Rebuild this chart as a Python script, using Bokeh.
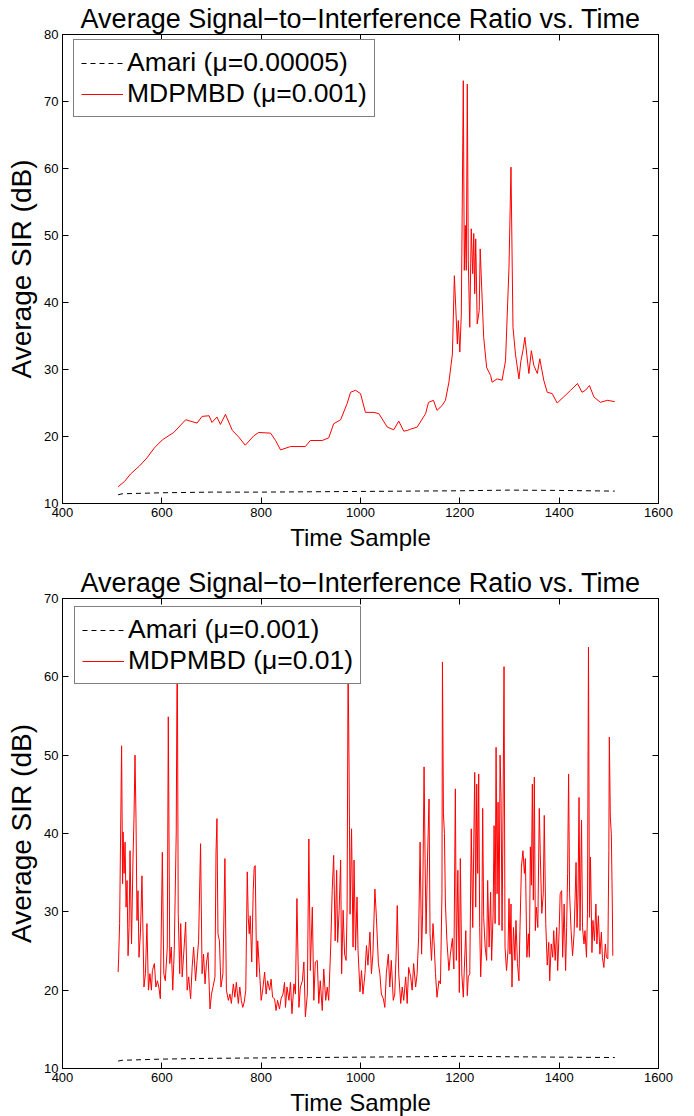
from bokeh.plotting import figure
from bokeh.layouts import column
from bokeh.models import Range1d, LinearAxis, FixedTicker, Legend, LegendItem
from bokeh.embed import file_html
from bokeh.resources import INLINE

FONT = "Liberation Sans"
TITLE = "Average Signal\u2212to\u2212Interference Ratio vs. Time"
X_LABEL = "Time Sample"
Y_LABEL = "Average SIR (dB)"
X_TICKS = [400, 600, 800, 1000, 1200, 1400, 1600]
Y1_TICKS = [10, 20, 30, 40, 50, 60, 70, 80]
Y2_TICKS = [10, 20, 30, 40, 50, 60, 70]

# ---------------- top panel data ----------------
amari1_label = "Amari (\u03bc=0.00005)"
mdp1_label = "MDPMBD (\u03bc=0.001)"
amari1_t = [512, 520, 600, 700, 800, 900, 1000, 1100, 1200, 1300, 1400, 1512]
amari1_v = [11.3, 11.45, 11.6, 11.7, 11.7, 11.75, 11.8, 11.85, 11.9, 12.0, 11.95, 11.85]

mdp1_t = [512, 525, 537, 555, 570, 585, 601, 624, 648, 671, 681, 695, 701, 711, 718, 728,
          742, 755, 768, 785, 795, 819, 829, 839, 859, 889, 899, 923, 936, 946, 960, 973,
          980, 990, 1000, 1010, 1027, 1037, 1054, 1067, 1077, 1087, 1094, 1101, 1114, 1131,
          1137, 1147, 1154, 1164, 1171, 1178, 1185, 1189, 1195, 1197, 1200, 1203, 1207, 1209,
          1211, 1213, 1215, 1217, 1220, 1223, 1226, 1228, 1230, 1232, 1235, 1239, 1241, 1244,
          1248, 1254, 1262, 1265, 1275, 1285, 1292, 1299, 1303, 1307, 1312, 1319, 1323, 1327,
          1331, 1339, 1344, 1349, 1356, 1361, 1369, 1376, 1386, 1396, 1409, 1423, 1437, 1446,
          1453, 1461, 1470, 1483, 1497, 1512]
mdp1_v = [12.5, 13.3, 14.4, 15.6, 16.8, 18.3, 19.5, 20.6, 22.5, 22.0, 23.0, 23.1, 22.1, 22.9, 21.8, 23.3,
          20.9, 19.9, 18.7, 20.1, 20.6, 20.5, 19.4, 18.0, 18.5, 18.5, 19.4, 19.4, 19.8, 21.9, 22.5, 24.9,
          26.6, 26.9, 26.4, 23.6, 23.6, 23.4, 21.4, 21.0, 22.3, 20.8, 20.9, 21.1, 21.4, 23.4,
          25.1, 25.4, 23.9, 24.6, 25.4, 28.1, 32.3, 44.0, 33.8, 37.3, 32.6, 38.3, 73.1, 44.8,
          51.5, 44.8, 72.6, 46.3, 36.3, 51.0, 44.3, 50.3, 41.3, 49.5, 36.8, 38.8, 48.0, 42.3,
          34.8, 30.3, 29.1, 28.1, 28.6, 28.4, 31.3, 45.3, 60.2, 36.3, 32.3, 28.6, 31.3, 32.8,
          34.8, 29.4, 32.8, 30.6, 29.4, 31.6, 28.4, 26.6, 26.4, 25.0, 25.9, 26.9, 27.9, 26.6,
          26.9, 27.6, 25.9, 25.1, 25.4, 25.2]

# ---------------- bottom panel data ----------------
amari2_label = "Amari (\u03bc=0.001)"
mdp2_label = "MDPMBD (\u03bc=0.01)"
amari2_t = [512, 520, 600, 700, 800, 900, 1000, 1100, 1200, 1300, 1400, 1512]
amari2_v = [10.95, 11.05, 11.2, 11.3, 11.35, 11.4, 11.45, 11.5, 11.55, 11.5, 11.45, 11.4]

mdp2_t = [512, 513, 515, 519, 521, 522, 524, 526, 528, 530, 532, 534, 536, 539, 542, 544, 546, 548,
          550, 552, 554, 557, 560, 564, 567, 570, 573, 576, 579, 581, 585, 588, 591, 594, 597, 601,
          604, 607, 611, 613, 616, 619, 622, 625, 629, 631, 633, 636, 638, 641, 644, 648, 651, 654,
          658, 661, 664, 668, 671, 674, 678, 681, 684, 687, 690, 693, 697, 700, 703, 707, 709, 711,
          713, 716, 719, 723, 727, 730, 734, 737, 740, 744, 747, 750, 754, 757, 760, 763, 766, 769,
          772, 774, 776, 778, 781, 784, 786, 788, 791, 793, 797, 800, 803, 807, 810, 813, 817, 820,
          823, 827, 830, 833, 837, 840, 844, 847, 849, 852, 856, 859, 862, 866, 869, 872, 876, 879,
          883, 886, 889, 893, 896, 899, 903, 906, 909, 913, 916, 919, 923, 926, 930, 933, 936, 940,
          943, 946, 949, 952, 954, 957, 960, 962, 965, 968, 971, 973, 975, 977, 979, 982, 985, 987,
          990, 993, 995, 999, 1002, 1005, 1009, 1012, 1015, 1019, 1022, 1025, 1029, 1032, 1036, 1039,
          1042, 1046, 1049, 1052, 1056, 1059, 1062, 1066, 1069, 1072, 1074, 1077, 1081, 1084, 1087,
          1091, 1094, 1097, 1101, 1104, 1107, 1111, 1114, 1117, 1120, 1123, 1125, 1128, 1130, 1132,
          1135, 1138, 1140, 1143, 1146, 1148, 1151, 1154, 1158, 1161, 1164, 1165, 1167, 1169, 1171,
          1174, 1178, 1181, 1185, 1188, 1191, 1193, 1196, 1199, 1201, 1204, 1207, 1209, 1212, 1215,
          1217, 1220, 1223, 1226, 1228, 1230, 1232, 1234, 1236, 1238, 1240, 1242, 1244, 1246, 1248,
          1251, 1254, 1256, 1259, 1262, 1264, 1267, 1269, 1271, 1273, 1275, 1277, 1279, 1281, 1283,
          1285, 1287, 1289, 1291, 1294, 1297, 1299, 1301, 1303, 1305, 1308, 1311, 1313, 1316, 1319,
          1321, 1324, 1327, 1330, 1332, 1335, 1338, 1340, 1342, 1344, 1346, 1348, 1350, 1352, 1354,
          1357, 1360, 1362, 1365, 1368, 1370, 1373, 1376, 1379, 1381, 1384, 1387, 1389, 1392, 1395,
          1397, 1400, 1402, 1405, 1407, 1410, 1413, 1415, 1417, 1419, 1421, 1424, 1427, 1430, 1432,
          1434, 1436, 1438, 1440, 1442, 1445, 1447, 1450, 1452, 1455, 1457, 1459, 1461, 1463, 1466,
          1468, 1471, 1474, 1476, 1479, 1482, 1485, 1487, 1490, 1493, 1495, 1498, 1500, 1501, 1503,
          1505, 1507, 1508]
mdp2_v = [22.3, 24.0, 28.5, 51.2, 33.6, 40.2, 34.9, 38.9, 30.6, 34.0, 24.4, 28.0, 37.8, 25.9, 37.0, 42.1, 50.0, 41.9,
          28.9, 32.7, 24.2, 27.4, 34.6, 20.4, 22.1, 28.5, 20.0, 22.1, 20.0, 22.5, 23.4, 20.4, 21.2, 20.4, 18.9, 37.6,
          22.1, 21.2, 25.5, 54.9, 23.4, 25.5, 20.0, 25.1, 40.2, 66.0, 29.8, 22.1, 28.5, 21.7, 24.6, 28.7, 20.0, 21.7,
          18.9, 22.9, 25.5, 21.2, 23.8, 26.3, 38.7, 22.1, 24.6, 20.8, 23.6, 24.8, 17.6, 19.5, 20.4, 21.7, 37.4, 41.9,
          27.2, 26.3, 20.4, 22.1, 36.8, 20.0, 18.7, 19.5, 18.3, 20.8, 19.1, 21.0, 18.3, 20.4, 18.7, 17.8, 18.5, 20.0,
          35.1, 29.3, 27.2, 29.5, 23.6, 32.7, 35.7, 35.9, 21.7, 26.3, 22.1, 18.7, 20.0, 22.3, 19.5, 21.2, 20.0, 21.4,
          19.1, 18.9, 17.4, 18.7, 17.6, 18.9, 19.5, 21.0, 17.8, 20.4, 18.7, 21.0, 17.0, 20.8, 19.5, 31.7, 17.8, 20.4,
          21.2, 23.6, 16.6, 19.5, 39.3, 22.5, 30.6, 18.7, 23.6, 23.8, 18.3, 21.2, 17.4, 22.7, 18.7, 20.4, 18.7, 25.5,
          32.7, 37.2, 26.3, 35.3, 26.1, 30.2, 36.6, 22.1, 30.2, 24.6, 23.8, 30.2, 62.0, 48.1, 29.7, 40.6, 25.5, 36.6,
          25.1, 31.9, 25.1, 19.8, 22.5, 19.5, 22.1, 25.7, 23.2, 27.4, 22.1, 24.6, 32.9, 29.3, 23.4, 22.1,
          19.5, 18.9, 17.8, 22.1, 24.6, 20.4, 23.8, 18.7, 19.5, 25.1, 30.8, 22.1, 18.3, 20.4, 18.7,
          21.7, 18.3, 22.9, 21.7, 20.0, 23.4, 20.4, 22.1, 26.8, 38.9, 24.6, 29.7, 48.5, 36.8, 27.2,
          37.0, 44.4, 27.2, 23.8, 28.5, 26.3, 22.1, 19.1, 21.2, 20.8, 32.3, 61.9, 42.5, 40.0, 31.0,
          26.3, 22.5, 24.6, 26.6, 22.7, 45.7, 23.8, 35.3, 19.7, 36.8, 22.1, 19.1, 22.7, 27.6, 19.3,
          21.7, 22.1, 40.6, 28.0, 38.3, 47.8, 30.6, 46.3, 34.9, 47.6, 28.0, 21.7, 25.5, 43.2, 29.3,
          25.5, 23.8, 34.0, 25.5, 32.5, 23.8, 29.8, 41.0, 28.5, 51.0, 32.3, 44.0, 28.3, 50.0, 44.6,
          27.6, 42.5, 61.3, 25.5, 22.5, 25.1, 31.7, 24.6, 31.0, 20.4, 28.0, 23.8, 28.9, 23.4, 21.2,
          27.6, 35.7, 37.8, 34.9, 36.8, 24.2, 27.2, 24.2, 38.3, 33.4, 46.3, 31.5, 47.2, 27.6, 30.6,
          28.0, 43.2, 37.4, 29.8, 32.3, 42.3, 28.5, 23.2, 26.1, 21.2, 25.9, 24.2, 27.6, 23.8, 28.0,
          22.5, 27.6, 32.3, 32.7, 24.2, 31.0, 22.5, 28.0, 34.9, 47.6, 32.3, 27.6, 24.4, 27.2, 31.5,
          36.3, 28.0, 32.3, 44.6, 27.6, 41.7, 28.0, 25.9, 27.6, 24.2, 29.8, 63.8, 29.3, 37.0, 24.8,
          28.9, 26.3, 31.0, 25.9, 29.5, 24.6, 27.4, 24.2, 22.9, 25.9, 24.2, 24.0, 37.8, 52.3, 42.1,
          40.0, 31.0, 24.4]


def style_axis(ax, ticks, labels=True):
    ax.ticker = FixedTicker(ticks=ticks)
    ax.major_tick_in = 6
    ax.major_tick_out = 0
    ax.minor_tick_line_color = None
    ax.axis_line_color = "black"
    ax.axis_line_width = 1
    ax.major_tick_line_color = "black"
    ax.major_tick_line_width = 1
    if labels:
        ax.major_label_text_font = FONT
        ax.major_label_text_font_size = "13px"
        ax.major_label_text_color = "black"
        ax.major_label_standoff = 4
        ax.axis_label_text_font = FONT
        ax.axis_label_text_font_style = "normal"
        ax.axis_label_text_color = "black"
        ax.axis_label_standoff = 4
    else:
        ax.major_label_text_font_size = "0px"
        ax.major_label_text_color = None
        ax.major_label_standoff = 0


def make_panel(ymax, yticks, tA, vA, tM, vM, labA, labM, frame_h, b_top, b_bottom, leg_loc):
    p = figure(frame_width=596, frame_height=frame_h, output_backend="svg", toolbar_location=None,
               x_range=Range1d(400, 1600), y_range=Range1d(10, ymax),
               min_border_left=62, min_border_right=20, min_border_top=b_top, min_border_bottom=b_bottom,
               title=TITLE)
    p.title.text_font = FONT
    p.title.text_font_size = "27px"
    p.title.text_font_style = "normal"
    p.title.text_color = "black"
    p.title.align = "center"
    p.title.standoff = 2
    p.grid.visible = False
    p.outline_line_color = "black"
    p.outline_line_width = 1
    p.background_fill_color = "white"
    p.border_fill_color = "white"

    style_axis(p.xaxis[0], X_TICKS)
    style_axis(p.yaxis[0], yticks)
    p.xaxis[0].axis_label = X_LABEL
    p.xaxis[0].axis_label_text_font_size = "24px"
    p.yaxis[0].axis_label = Y_LABEL
    p.yaxis[0].axis_label_text_font_size = "28px"
    top_ax = LinearAxis()
    style_axis(top_ax, X_TICKS, labels=False)
    p.add_layout(top_ax, "above")
    right_ax = LinearAxis()
    style_axis(right_ax, yticks, labels=False)
    p.add_layout(right_ax, "right")

    rA = p.line(tA, vA, line_color="black", line_width=1, line_dash="5 4")
    rM = p.line(tM, vM, line_color="#ff0000", line_width=1)

    legend = Legend(items=[LegendItem(label=labA, renderers=[rA]),
                           LegendItem(label=labM, renderers=[rM])],
                    location=leg_loc, label_text_font=FONT, label_text_font_size="26.5px",
                    label_text_color="black", glyph_width=42, glyph_height=30, label_height=30,
                    label_standoff=4, padding=7, spacing=0, margin=0,
                    border_line_color="black", border_line_width=1,
                    background_fill_color="white", background_fill_alpha=1.0)
    p.add_layout(legend)
    return p


p1 = make_panel(80, Y1_TICKS, amari1_t, amari1_v, mdp1_t, mdp1_v, amari1_label, mdp1_label,
                469, 26, 53, (11, 386))
p2 = make_panel(70, Y2_TICKS, amari2_t, amari2_v, mdp2_t, mdp2_v, amari2_label, mdp2_label,
                470, 42, 40, (12, 384))

layout = column(p1, p2)
open("out.html", "w").write(file_html(layout, INLINE))
